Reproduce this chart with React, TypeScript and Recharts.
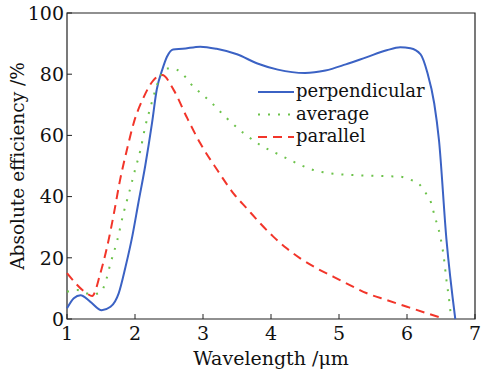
import React from "react";
import {
  LineChart, Line, XAxis, YAxis, ReferenceArea,
} from "recharts";

// wavelength (um) and absolute efficiency (%)
const perpX = [1.0, 1.1, 1.2, 1.34, 1.51, 1.64, 1.76, 1.86, 1.96, 2.05, 2.15, 2.25, 2.32, 2.4, 2.47, 2.56, 2.7, 2.96, 3.2, 3.5, 3.8, 4.1, 4.5, 4.8, 5.1, 5.4, 5.7, 5.9, 6.05, 6.2, 6.3, 6.4, 6.47, 6.58, 6.71];
const perpY = [3.5, 6.8, 7.8, 5.7, 2.9, 4, 8.4, 17, 27, 38, 50, 64, 75, 81.4, 85.7, 88.1, 88.3, 89, 88.3, 86.5, 83.5, 81.5, 80.4, 81.2, 83.2, 85.5, 87.8, 88.8, 88.5, 86.5, 80.5, 70.5, 58.5, 26, 0];

const avgX = [1.0, 1.15, 1.27, 1.4, 1.49, 1.56, 1.64, 1.74, 1.83, 1.91, 2.0, 2.08, 2.15, 2.23, 2.3, 2.37, 2.47, 2.62, 2.86, 3.11, 3.35, 3.6, 3.84, 4.13, 4.38, 4.62, 4.87, 5.16, 5.65, 5.9, 6.04, 6.17, 6.26, 6.34, 6.41, 6.49, 6.54, 6.58, 6.62, 6.65];
const avgY = [8.9, 9.5, 8.4, 8.2, 8.6, 11.6, 18.2, 25.8, 34.5, 41, 48.7, 55.2, 62.8, 69.4, 74.8, 79.2, 81.9, 81.4, 75.9, 71, 65.6, 60.7, 56.9, 53.6, 50.9, 48.7, 47.6, 47.1, 46.7, 46.5, 45.6, 44.3, 41.6, 38.9, 33.4, 26.9, 20.4, 12.7, 6.2, 0];

const parX = [1.0, 1.29, 1.37, 1.49, 1.59, 1.69, 1.78, 1.88, 1.98, 2.13, 2.27, 2.4, 2.57, 2.76, 2.96, 3.21, 3.45, 3.65, 3.84, 4.03, 4.23, 4.43, 4.67, 4.92, 5.16, 5.41, 5.7, 6.0, 6.29, 6.53];
const parY = [15, 8.4, 7.5, 14.9, 23.6, 34.5, 45.4, 55.2, 64, 72.6, 78, 79.7, 74.8, 66, 57.4, 48.7, 41, 36, 31.3, 27, 23.1, 19.8, 16.6, 13.8, 11.1, 8.4, 6.2, 4.0, 1.9, 0.2];

const xTicks = [1, 2, 3, 4, 5, 6, 7];
const yTicks = [0, 20, 40, 60, 80, 100];

const BLUE = "#3b62c4";
const GREEN = "#6cc24a";
const RED = "#f2352a";
const FONT = "DejaVu Serif";

const zip = (xs: number[], ys: number[]) => xs.map((x, i) => ({ x, y: ys[i] }));

const series = [
  { name: "perpendicular", data: zip(perpX, perpY), color: BLUE, dash: undefined as string | undefined },
  { name: "average", data: zip(avgX, avgY), color: GREEN, dash: "2 8" },
  { name: "parallel", data: zip(parX, parY), color: RED, dash: "9 6" },
];

const XTick = (p: any) => (
  <g>
    <line x1={p.x} x2={p.x} y1={p.y} y2={p.y - 5} stroke="#222" />
    <text x={p.x} y={p.y + 21} textAnchor="middle" fontSize={19} fill="#111" fontFamily={FONT}>
      {p.payload.value}
    </text>
  </g>
);

const YTick = (p: any) => (
  <g>
    <line x1={p.x} x2={p.x + 5} y1={p.y} y2={p.y} stroke="#222" />
    <text x={p.x - 3} y={p.y} dy="0.36em" textAnchor="end" fontSize={19} fill="#111" fontFamily={FONT}>
      {p.payload.value}
    </text>
  </g>
);

const YLabel = (p: any) => {
  const vb = p.viewBox;
  const cx = 18;
  const cy = vb.y + vb.height / 2;
  return (
    <text x={cx} y={cy} transform={`rotate(-90 ${cx} ${cy})`} textAnchor="middle" dy="0.35em"
      fontSize={18.5} fill="#111" fontFamily={FONT}>
      Absolute efficiency /%
    </text>
  );
};

export default function App() {
  return (
    <div style={{ position: "absolute", left: 0, top: 0, width: 481, height: 373, background: "#fff", fontFamily: FONT }}>
      <LineChart width={481} height={373} margin={{ top: 13, right: 6, bottom: 0, left: 0 }}>
        <XAxis dataKey="x" type="number" domain={[1, 7]} ticks={xTicks} height={54}
          axisLine={false} tickLine={false} tickSize={0} tickMargin={0} tick={XTick}
          allowDuplicatedCategory={false}
          label={{ value: "Wavelength /\u03bcm", position: "insideBottom", offset: 8, fontSize: 19, fill: "#111", fontFamily: FONT }} />
        <YAxis dataKey="y" type="number" domain={[0, 100]} ticks={yTicks} width={67}
          axisLine={false} tickLine={false} tickSize={0} tickMargin={0} tick={YTick}
          label={<YLabel />} />
        <ReferenceArea x1={1} x2={7} y1={0} y2={100} fill="none" stroke="#222" strokeWidth={1.2} />
        {series.map(s => (
          <Line key={s.name} data={s.data} dataKey="y" name={s.name} type="monotone"
            stroke={s.color} strokeWidth={2} strokeDasharray={s.dash}
            dot={false} activeDot={false} isAnimationActive={false} />
        ))}
      </LineChart>
      <svg width={200} height={70} style={{ position: "absolute", left: 256, top: 80 }}>
        {series.map((s, i) => (
          <g key={s.name}>
            <line x1={2} x2={38} y1={12 + i * 22.5} y2={12 + i * 22.5} stroke={s.color}
              strokeWidth={2} strokeDasharray={s.dash} />
            <text x={40} y={12 + i * 22.5} dy="0.3em" fontSize={18} fill="#111" fontFamily={FONT}>
              {s.name}
            </text>
          </g>
        ))}
      </svg>
    </div>
  );
}
